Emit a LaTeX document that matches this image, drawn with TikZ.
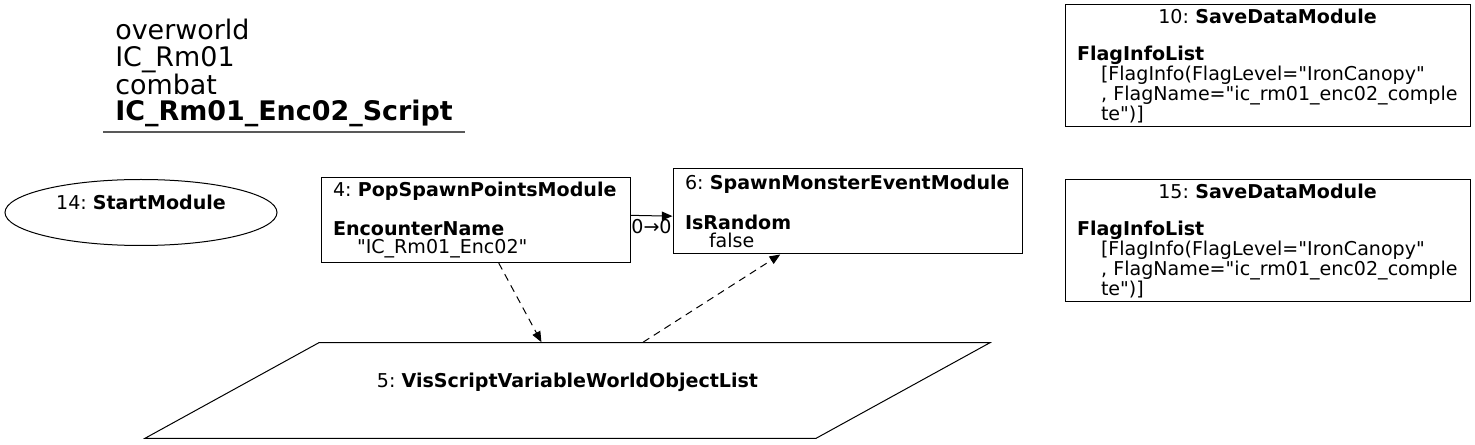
\documentclass[tikz,border=0pt]{standalone}
\usepackage{fontspec}
\setmainfont{DejaVu Sans}[Ligatures=TeXOff]
\usetikzlibrary{arrows.meta,positioning,shapes.geometric}
\frenchspacing
\hyphenpenalty=10000
\newcommand{\ind}{\hspace*{18pt}}
\newcommand{\gap}{\\[15pt]}
\tikzset{
  nodefont/.style={font=\fontsize{14.3}{13.1}\selectfont},
  modbox/.style={nodefont,draw=black,line width=0.75pt,rectangle,align=left,inner xsep=9pt,inner ysep=0pt,minimum height=63.75pt},
  startnode/.style={nodefont,draw=black,line width=0.75pt,ellipse,inner sep=0pt,minimum width=204pt,minimum height=49.5pt,text height=10.5pt,text depth=15pt},
  varnode/.style={nodefont,draw=black,line width=0.75pt,trapezium,trapezium left angle=28.8,trapezium right angle=151.2,trapezium stretches body=true,minimum width=633.75pt,inner xsep=0pt,inner ysep=23.1pt,text height=10.5pt,text depth=15pt},
  lab/.style={nodefont,inner sep=1pt},
  arr/.style={-{Triangle[length=8pt,width=6.5pt]},line width=0.75pt,draw=black},
  deparr/.style={arr,dash pattern=on 5.5pt off 4pt},
}
\begin{document}
\begin{tikzpicture}[x=0.75pt,y=-0.75pt]
  \useasboundingbox (0,0) rectangle (1475,445);
  % graph title
  \node[anchor=north west,inner sep=0pt,align=left,font=\fontsize{20.2}{19.9}\selectfont] (title) at (115,19) {overworld\\IC\_Rm01\\combat\\\textbf{IC\_Rm01\_Enc02\_Script}};
  \draw[line width=1.5pt,draw=black!65] (103,132) -- (465,132);
  % modules
  \node[startnode] (start) at (141,212.5) {14:~\textbf{StartModule}};
  \node[modbox,minimum width=231.75pt,text width=213.75pt] (pop) at (475.5,220) {4:~\textbf{PopSpawnPointsModule}\gap
    \textbf{EncounterName}\\\ind"IC\_Rm01\_Enc02"};
  \node[modbox,minimum width=261.75pt,text width=243.75pt] (spawn) at (847.5,211.5) {6:~\textbf{SpawnMonsterEventModule}\gap
    \textbf{IsRandom}\\\ind false};
  \node[modbox,minimum width=303.75pt,minimum height=91.5pt,text width=285.75pt] (save10) at (1267.5,66) {\makebox[\hsize][c]{10: \textbf{SaveDataModule}}\gap
    \textbf{FlagInfoList}\\\ind[FlagInfo(FlagLevel="IronCanopy"\\\ind, FlagName="ic\_rm01\_enc02\_comple\\\ind te")]};
  \node[modbox,minimum width=303.75pt,minimum height=91.5pt,text width=285.75pt,below=39pt of save10] (save15) {\makebox[\hsize][c]{15: \textbf{SaveDataModule}}\gap
    \textbf{FlagInfoList}\\\ind[FlagInfo(FlagLevel="IronCanopy"\\\ind, FlagName="ic\_rm01\_enc02\_comple\\\ind te")]};
  \node[varnode] (vars) at (567.5,390.5) {5:~\textbf{VisScriptVariableWorldObjectList}};
  % links
  \draw[arr] ([yshift=3.5pt]pop.east) -- node[lab,below=1pt] (port) {0→0} ([yshift=-3.5pt]spawn.west);
  \draw[deparr] (pop) -- (vars);
  \draw[deparr] (vars) -- (spawn);
\end{tikzpicture}
\end{document}
